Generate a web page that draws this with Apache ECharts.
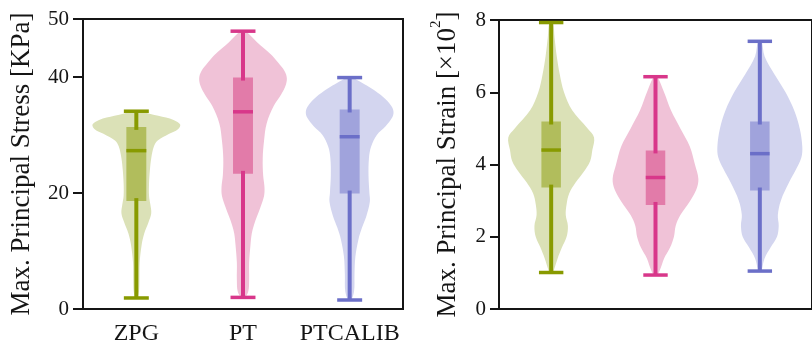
<!DOCTYPE html>
<html><head><meta charset="utf-8">
<script src="https://cdn.jsdelivr.net/npm/echarts@6/dist/echarts.min.js"></script>
<style>html,body{margin:0;padding:0;background:#fff}#c{width:812px;height:353px}</style>
</head><body><div id="c"></div>
<script>
// ---------- data ----------
const categories = ['ZPG', 'PT', 'PTCALIB'];
const stressTicks = [0, 20, 40, 50];
const strainTicks = [0, 2, 4, 6, 8];
const stressTitle = 'Max. Principal Stress [KPa]';
const strainTitle = 'Max. Principal Strain [×10';
const strainTitleSup = '2';

// box stats per category: [lower whisker, q1, median, q3, upper whisker]
const stressBoxZPG = [1.9, 18.6, 27.3, 31.4, 34.1];
const stressBoxPT = [2.0, 23.3, 34.0, 39.9, 47.9];
const stressBoxPTCALIB = [1.55, 19.9, 29.7, 34.4, 39.9];
const strainBoxZPG = [1.01, 3.36, 4.40, 5.19, 7.93];
const strainBoxPT = [0.94, 2.88, 3.64, 4.39, 6.43];
const strainBoxPTCALIB = [1.05, 3.28, 4.30, 5.19, 7.41];

// violin density profiles: [value, relative density (max = 1)]
const stressViolinZPG = [[1.8,0.02],[3,0.06],[5,0.07],[8,0.076],[11,0.12],[13,0.18],[15,0.28],[16.5,0.34],[18,0.32],[19.5,0.29],[21.7,0.29],[24,0.31],[26,0.34],[28,0.40],[29,0.48],[30.2,0.75],[31,0.95],[31.8,1.0],[32.6,0.85],[33.3,0.5],[34.1,0.06]];
const stressViolinPT = [[2,0.04],[3,0.12],[5,0.14],[8,0.14],[11,0.17],[13,0.2],[14.5,0.25],[16,0.32],[17.6,0.4],[19.5,0.48],[21,0.49],[23,0.46],[26,0.45],[29,0.48],[32,0.54],[35,0.7],[37,0.87],[38.5,0.97],[39.8,1.0],[41,0.95],[42.5,0.8],[44,0.62],[46,0.32],[47.9,0.06]];
const stressViolinPTCALIB = [[1.5,0.03],[3,0.1],[6,0.11],[9,0.13],[12,0.2],[14,0.28],[16,0.38],[18.5,0.46],[20,0.45],[23,0.43],[26,0.44],[28,0.49],[30,0.62],[31.5,0.82],[33,0.97],[34,1.0],[35,0.95],[36.5,0.77],[38,0.5],[39,0.28],[39.9,0.05]];
const strainViolinZPG = [[1.0,0.04],[1.1,0.07],[1.4,0.15],[1.7,0.25],[2.0,0.36],[2.3,0.39],[2.6,0.34],[2.9,0.36],[3.2,0.42],[3.5,0.57],[3.8,0.76],[4.1,0.91],[4.4,0.96],[4.75,1.0],[5.0,0.85],[5.5,0.49],[6.0,0.3],[6.5,0.2],[7.0,0.13],[7.5,0.08],[7.93,0.04]];
const strainViolinPT = [[0.94,0.04],[1.1,0.11],[1.4,0.2],[1.7,0.34],[2.0,0.43],[2.3,0.47],[2.6,0.58],[3.0,0.81],[3.3,0.95],[3.6,1.0],[4.0,0.92],[4.5,0.8],[5.0,0.58],[5.5,0.36],[6.0,0.2],[6.43,0.04]];
const strainViolinPTCALIB = [[1.05,0.04],[1.1,0.05],[1.4,0.11],[1.7,0.25],[2.0,0.4],[2.3,0.44],[2.6,0.42],[3.0,0.49],[3.5,0.68],[3.9,0.86],[4.2,0.97],[4.5,0.99],[5.0,0.93],[5.5,0.8],[6.0,0.6],[6.5,0.34],[7.0,0.11],[7.41,0.04]];

// ---------- styles ----------
const lineColors = ['#889a00', '#d8378a', '#6b6fc8'];
const violinColors = ['#dbe1b7', '#f0c2d7', '#d3d5ef'];
const boxColors = ['#b1bd5c', '#e27ba9', '#a0a3dc'];
const FONT = 'Liberation Serif';
const INK = '#151515';

const stressBoxes = [stressBoxZPG, stressBoxPT, stressBoxPTCALIB];
const strainBoxes = [strainBoxZPG, strainBoxPT, strainBoxPTCALIB];
const stressViolins = [stressViolinZPG, stressViolinPT, stressViolinPTCALIB];
const strainViolins = [strainViolinZPG, strainViolinPT, strainViolinPTCALIB];

function makeRender(boxes, violins) {
  return function (params, api) {
    const i = api.value(0);
    const box = boxes[i];
    const prof = violins[i];
    const cx = api.coord([i, 0])[0];
    const band = api.size([1, 0])[0];
    const maxHalf = band * 0.411;
    const yv = v => api.coord([i, v])[1];
    const right = prof.map(p => [cx + p[1] * maxHalf, yv(p[0])]);
    const left = prof.slice().reverse().map(p => [cx - p[1] * maxHalf, yv(p[0])]);
    const pts = right.concat(left);
    const bw = band * 0.187 / 2;
    const cw = band * 0.234 / 2;
    const lc = lineColors[i];
    const yLo = yv(box[0]), yQ1 = yv(box[1]), yMed = yv(box[2]), yQ3 = yv(box[3]), yHi = yv(box[4]);
    return {
      type: 'group',
      children: [
        { type: 'polygon', shape: { points: pts, smooth: 0.35 }, style: { fill: violinColors[i] } },
        { type: 'rect', shape: { x: cx - bw, y: yQ3, width: 2 * bw, height: yQ1 - yQ3 }, style: { fill: boxColors[i] } },
        { type: 'line', shape: { x1: cx, y1: yLo, x2: cx, y2: yQ1 - 3 }, style: { stroke: lc, lineWidth: 4 } },
        { type: 'line', shape: { x1: cx, y1: yQ3 + 3, x2: cx, y2: yHi }, style: { stroke: lc, lineWidth: 4 } },
        { type: 'line', shape: { x1: cx - bw, y1: yMed, x2: cx + bw, y2: yMed }, style: { stroke: lc, lineWidth: 3.5 } },
        { type: 'line', shape: { x1: cx - cw, y1: yLo, x2: cx + cw, y2: yLo }, style: { stroke: lc, lineWidth: 3.5 } },
        { type: 'line', shape: { x1: cx - cw, y1: yHi, x2: cx + cw, y2: yHi }, style: { stroke: lc, lineWidth: 3.5 } }
      ]
    };
  };
}

const axisLineStyle = { color: INK, width: 2 };
const chart = echarts.init(document.getElementById('c'), null, { renderer: 'canvas' });
chart.setOption({
  animation: false,
  backgroundColor: '#fff',
  grid: [
    { left: 83, top: 19, width: 320, height: 290, show: true, borderColor: INK, borderWidth: 2, backgroundColor: 'transparent' },
    { left: 499, top: 20, width: 320, height: 289, show: true, borderColor: INK, borderWidth: 2, backgroundColor: 'transparent' }
  ],
  xAxis: [
    { type: 'category', gridIndex: 0, data: categories,
      axisLine: { lineStyle: axisLineStyle },
      axisTick: { alignWithLabel: true, length: 8, lineStyle: axisLineStyle },
      axisLabel: { interval: 0, hideOverlap: false, fontFamily: FONT, fontSize: 24, color: INK, margin: 13 } },
    { type: 'category', gridIndex: 1, data: categories,
      axisLine: { lineStyle: axisLineStyle },
      axisTick: { show: false }, axisLabel: { show: false } }
  ],
  yAxis: [
    { type: 'value', gridIndex: 0, min: 0, max: 50, interval: 10,
      splitLine: { show: false },
      axisLine: { show: true, lineStyle: axisLineStyle },
      axisTick: { show: true, length: 10, lineStyle: axisLineStyle, customValues: stressTicks },
      axisLabel: { fontFamily: FONT, fontSize: 21, color: INK, margin: 14, customValues: stressTicks },
      name: stressTitle, nameLocation: 'middle', nameGap: 48,
      nameTextStyle: { fontFamily: FONT, fontSize: 27, color: INK } },
    { type: 'value', gridIndex: 1, min: 0, max: 8, interval: 2,
      splitLine: { show: false },
      axisLine: { show: true, lineStyle: axisLineStyle },
      axisTick: { show: true, length: 9, lineStyle: axisLineStyle, customValues: strainTicks },
      axisLabel: { fontFamily: FONT, fontSize: 21, color: INK, margin: 13, customValues: strainTicks },
      name: '{m|' + strainTitle + '}{sup|' + strainTitleSup + '}{m|]}', nameLocation: 'middle', nameGap: 38,
      nameTextStyle: { fontFamily: FONT, fontSize: 27, color: INK,
        rich: {
          m: { fontFamily: FONT, fontSize: 27, color: INK, lineHeight: 32, verticalAlign: 'bottom' },
          sup: { fontFamily: FONT, fontSize: 15, color: INK, lineHeight: 14, verticalAlign: 'top' }
        } } }
  ],
  series: [
    { type: 'custom', xAxisIndex: 0, yAxisIndex: 0, renderItem: makeRender(stressBoxes, stressViolins),
      encode: { x: 0, y: 1 }, data: categories.map((c, i) => [i, stressBoxes[i][2]]), z: 1 },
    { type: 'custom', xAxisIndex: 1, yAxisIndex: 1, renderItem: makeRender(strainBoxes, strainViolins),
      encode: { x: 0, y: 1 }, data: categories.map((c, i) => [i, strainBoxes[i][2]]), z: 1 }
  ]
});
</script></body></html>
